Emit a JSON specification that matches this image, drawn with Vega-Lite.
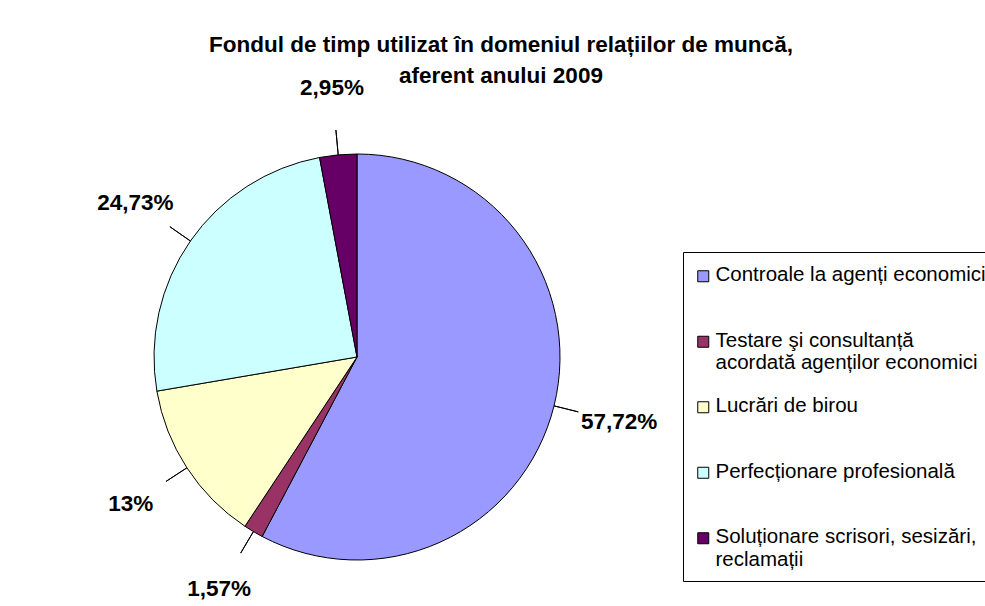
{
  "$schema": "https://vega.github.io/schema/vega-lite/v6.json",
  "width": 500,
  "height": 498,
  "autosize": {"type": "none"},
  "padding": {"left": 107, "top": 108, "right": 378, "bottom": 0},
  "background": "white",
  "config": {"view": {"stroke": null}, "font": "Liberation Sans"},
  "title": {
    "text": ["Fondul de timp utilizat în domeniul relațiilor de muncă,", "aferent anului 2009"],
    "fontSize": 22.5,
    "fontWeight": "bold",
    "font": "Liberation Sans",
    "lineHeight": 31,
    "anchor": "middle",
    "dx": 144,
    "offset": -10,
    "color": "black"
  },
  "data": {
    "values": [
      {"categorie": "Controale la agenți economici", "valoare": 57.72, "eticheta": "57,72%", "ordine": 1},
      {"categorie": "Testare şi consultanță acordată agenților economici", "valoare": 1.57, "eticheta": "1,57%", "ordine": 2},
      {"categorie": "Lucrări de birou", "valoare": 13, "eticheta": "13%", "ordine": 3},
      {"categorie": "Perfecționare profesională", "valoare": 24.73, "eticheta": "24,73%", "ordine": 4},
      {"categorie": "Soluționare scrisori, sesizări, reclamații", "valoare": 2.95, "eticheta": "2,95%", "ordine": 5}
    ]
  },
  "layer": [
    {
      "mark": {"type": "arc", "outerRadius": 203, "stroke": "black", "strokeWidth": 1},
      "encoding": {
        "theta": {"field": "valoare", "type": "quantitative", "stack": true},
        "order": {"field": "ordine", "type": "quantitative"},
        "color": {
          "field": "categorie",
          "type": "nominal",
          "scale": {
            "domain": ["Controale la agenți economici", "Testare şi consultanță acordată agenților economici", "Lucrări de birou", "Perfecționare profesională", "Soluționare scrisori, sesizări, reclamații"],
            "range": ["#9999FF", "#993366", "#FFFFCC", "#CCFFFF", "#660066"]
          },
          "legend": {
            "title": " ",
            "titleFontSize": 2,
            "titlePadding": 2,
            "orient": "none",
            "legendX": 576,
            "legendY": 144,
            "direction": "vertical",
            "symbolType": "square",
            "symbolSize": 121,
            "symbolStrokeColor": "black",
            "symbolStrokeWidth": 1,
            "symbolOpacity": 1,
            "labelFontSize": 20.5,
            "labelFont": "Liberation Sans",
            "labelColor": "black",
            "labelLimit": 400,
            "labelOffset": 2,
            "labelBaseline": "top",
            "strokeColor": "black",
            "fillColor": "white",
            "padding": 10,
            "rowPadding": 21.5,
            "labelExpr": "datum.label == 'Testare şi consultanță acordată agenților economici' ? ['Testare şi consultanță', 'acordată agenților economici'] : datum.label == 'Soluționare scrisori, sesizări, reclamații' ? ['Soluționare scrisori, sesizări,', 'reclamații'] : [datum.label, '']",
            "encode": {"labels": {"update": {"dy": {"value": -11}}}}
          }
        }
      }
    },
    {
      "transform": [
        {"stack": "valoare", "groupby": [], "sort": [{"field": "ordine"}], "as": ["v0", "v1"]},
        {"fold": ["v0", "v1"], "as": ["k", "bord"]},
        {"aggregate": [{"op": "mean", "field": "bord", "as": "mijloc"}], "groupby": ["categorie", "eticheta"]}
      ],
      "mark": {"type": "arc", "radius": 228, "radius2": 203, "filled": false, "stroke": "black", "strokeWidth": 1},
      "encoding": {
        "theta": {"field": "mijloc", "type": "quantitative", "stack": null, "scale": {"domain": [0, 99.97], "range": [0, 6.283185307]}},
        "theta2": {"field": "mijloc"}
      }
    },
    {
      "transform": [
        {"stack": "valoare", "groupby": [], "sort": [{"field": "ordine"}], "as": ["v0", "v1"]},
        {"fold": ["v0", "v1"], "as": ["k", "bord"]},
        {"aggregate": [{"op": "mean", "field": "bord", "as": "mijloc"}], "groupby": ["categorie", "eticheta"]}
      ],
      "mark": {"type": "text", "radius": 270, "fontSize": 22.5, "fontWeight": "bold", "font": "Liberation Sans", "color": "black", "align": "center", "baseline": "middle"},
      "encoding": {
        "theta": {"field": "mijloc", "type": "quantitative", "stack": null, "scale": {"domain": [0, 99.97], "range": [0, 6.283185307]}},
        "text": {"field": "eticheta", "type": "nominal"}
      }
    }
  ],
  "resolve": {"scale": {"theta": "independent"}}
}
